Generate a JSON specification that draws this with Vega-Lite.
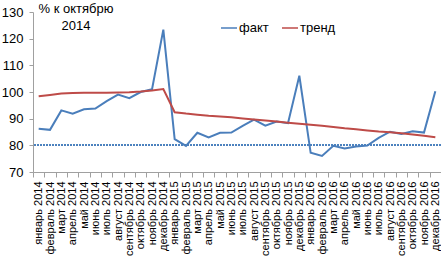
{
  "$schema": "https://vega.github.io/schema/vega-lite/v6.json",
  "autosize": "none",
  "width": 408,
  "height": 160,
  "padding": {"left": 33, "top": 12, "right": 0, "bottom": 92},
  "background": "white",
  "config": {
    "font": "Liberation Sans",
    "view": {"stroke": null},
    "axis": {"labelColor": "#000000", "labelFont": "Liberation Sans"}
  },
  "title": {
    "text": ["% к октябрю", "2014"],
    "anchor": "middle",
    "frame": "group",
    "align": "center",
    "dx": -161,
    "dy": 31,
    "fontSize": 13,
    "fontWeight": "normal",
    "color": "#000000",
    "lineHeight": 17
  },
  "data": {
    "values": [
      {"month": "январь 2014", "series": "факт", "value": 86.2},
      {"month": "февраль 2014", "series": "факт", "value": 85.8},
      {"month": "март 2014", "series": "факт", "value": 93.1},
      {"month": "апрель 2014", "series": "факт", "value": 91.9},
      {"month": "май 2014", "series": "факт", "value": 93.5},
      {"month": "июнь 2014", "series": "факт", "value": 93.8},
      {"month": "июль 2014", "series": "факт", "value": 96.6},
      {"month": "август 2014", "series": "факт", "value": 99.0},
      {"month": "сентябрь 2014", "series": "факт", "value": 97.7},
      {"month": "октябрь 2014", "series": "факт", "value": 100.0},
      {"month": "ноябрь 2014", "series": "факт", "value": 101.0},
      {"month": "декабрь 2014", "series": "факт", "value": 123.4},
      {"month": "январь 2015", "series": "факт", "value": 82.3},
      {"month": "февраль 2015", "series": "факт", "value": 79.8},
      {"month": "март 2015", "series": "факт", "value": 84.7},
      {"month": "апрель 2015", "series": "факт", "value": 83.0},
      {"month": "май 2015", "series": "факт", "value": 84.7},
      {"month": "июнь 2015", "series": "факт", "value": 84.8},
      {"month": "июль 2015", "series": "факт", "value": 87.3},
      {"month": "август 2015", "series": "факт", "value": 89.6},
      {"month": "сентябрь 2015", "series": "факт", "value": 87.4},
      {"month": "октябрь 2015", "series": "факт", "value": 88.9},
      {"month": "ноябрь 2015", "series": "факт", "value": 88.3},
      {"month": "декабрь 2015", "series": "факт", "value": 106.1},
      {"month": "январь 2016", "series": "факт", "value": 77.2},
      {"month": "февраль 2016", "series": "факт", "value": 76.0},
      {"month": "март 2016", "series": "факт", "value": 79.8},
      {"month": "апрель 2016", "series": "факт", "value": 78.8},
      {"month": "май 2016", "series": "факт", "value": 79.6},
      {"month": "июнь 2016", "series": "факт", "value": 79.9},
      {"month": "июль 2016", "series": "факт", "value": 82.8},
      {"month": "август 2016", "series": "факт", "value": 85.1},
      {"month": "сентябрь 2016", "series": "факт", "value": 84.3},
      {"month": "октябрь 2016", "series": "факт", "value": 85.3},
      {"month": "ноябрь 2016", "series": "факт", "value": 84.8},
      {"month": "декабрь 2016", "series": "факт", "value": 100.3},
      {"month": "январь 2014", "series": "тренд", "value": 98.4},
      {"month": "февраль 2014", "series": "тренд", "value": 98.9},
      {"month": "март 2014", "series": "тренд", "value": 99.4},
      {"month": "апрель 2014", "series": "тренд", "value": 99.6},
      {"month": "май 2014", "series": "тренд", "value": 99.7},
      {"month": "июнь 2014", "series": "тренд", "value": 99.7},
      {"month": "июль 2014", "series": "тренд", "value": 99.7},
      {"month": "август 2014", "series": "тренд", "value": 99.8},
      {"month": "сентябрь 2014", "series": "тренд", "value": 99.9},
      {"month": "октябрь 2014", "series": "тренд", "value": 100.2},
      {"month": "ноябрь 2014", "series": "тренд", "value": 100.6},
      {"month": "декабрь 2014", "series": "тренд", "value": 101.1},
      {"month": "январь 2015", "series": "тренд", "value": 92.4},
      {"month": "февраль 2015", "series": "тренд", "value": 91.9},
      {"month": "март 2015", "series": "тренд", "value": 91.5},
      {"month": "апрель 2015", "series": "тренд", "value": 91.1},
      {"month": "май 2015", "series": "тренд", "value": 90.8},
      {"month": "июнь 2015", "series": "тренд", "value": 90.5},
      {"month": "июль 2015", "series": "тренд", "value": 90.1},
      {"month": "август 2015", "series": "тренд", "value": 89.7},
      {"month": "сентябрь 2015", "series": "тренд", "value": 89.3},
      {"month": "октябрь 2015", "series": "тренд", "value": 88.9},
      {"month": "ноябрь 2015", "series": "тренд", "value": 88.5},
      {"month": "декабрь 2015", "series": "тренд", "value": 88.1},
      {"month": "январь 2016", "series": "тренд", "value": 87.7},
      {"month": "февраль 2016", "series": "тренд", "value": 87.3},
      {"month": "март 2016", "series": "тренд", "value": 86.9},
      {"month": "апрель 2016", "series": "тренд", "value": 86.4},
      {"month": "май 2016", "series": "тренд", "value": 86.0},
      {"month": "июнь 2016", "series": "тренд", "value": 85.6},
      {"month": "июль 2016", "series": "тренд", "value": 85.2},
      {"month": "август 2016", "series": "тренд", "value": 84.9},
      {"month": "сентябрь 2016", "series": "тренд", "value": 84.5},
      {"month": "октябрь 2016", "series": "тренд", "value": 84.1},
      {"month": "ноябрь 2016", "series": "тренд", "value": 83.6},
      {"month": "декабрь 2016", "series": "тренд", "value": 83.0}
    ]
  },
  "layer": [
    {
      "mark": {"type": "rule", "color": "#4F81BD", "strokeDash": [1.5, 1.5], "strokeWidth": 1},
      "encoding": {
        "y": {
          "datum": 80,
          "type": "quantitative",
          "scale": {"domain": [70, 130], "nice": false, "zero": false},
          "axis": {
            "title": null,
            "values": [70, 80, 90, 100, 110, 120, 130],
            "tickCount": 7,
            "labelOverlap": false,
            "labelFontSize": 13,
            "labelPadding": 6,
            "tickSize": 4,
            "tickColor": "#A0A0A0",
            "domainColor": "#A0A0A0",
            "gridColor": "#D9D9D9",
            "gridWidth": 1
          }
        }
      }
    },
    {
      "mark": {"type": "line", "strokeWidth": 2, "interpolate": "linear"},
      "encoding": {
        "x": {
          "field": "month",
          "type": "ordinal",
          "sort": null,
          "scale": {"type": "band", "paddingInner": 0, "paddingOuter": 0},
          "axis": {
            "title": null,
            "labelAngle": -90,
            "labelAlign": "right",
            "labelBaseline": "middle",
            "labelFontSize": 11,
            "labelPadding": 4,
            "tickBand": "extent",
            "tickSize": 5,
            "tickColor": "#A0A0A0",
            "domainColor": "#A0A0A0",
            "grid": false,
            "labelOverlap": false
          }
        },
        "y": {
          "field": "value",
          "type": "quantitative",
          "scale": {"domain": [70, 130], "nice": false, "zero": false},
          "axis": {
            "title": null,
            "values": [70, 80, 90, 100, 110, 120, 130],
            "tickCount": 7,
            "labelOverlap": false,
            "labelFontSize": 13,
            "labelPadding": 6,
            "tickSize": 4,
            "tickColor": "#A0A0A0",
            "domainColor": "#A0A0A0",
            "gridColor": "#D9D9D9",
            "gridWidth": 1
          }
        },
        "color": {
          "field": "series",
          "type": "nominal",
          "scale": {"domain": ["факт", "тренд"], "range": ["#4A7EBB", "#BE4B48"]},
          "legend": {
            "title": null,
            "orient": "none",
            "direction": "horizontal",
            "legendX": 187,
            "legendY": 7,
            "symbolType": "stroke",
            "symbolStrokeWidth": 1.5,
            "symbolSize": 256,
            "labelFontSize": 13,
            "labelOffset": 1,
            "columnPadding": 10,
            "labelColor": "#000000"
          }
        }
      }
    }
  ]
}
